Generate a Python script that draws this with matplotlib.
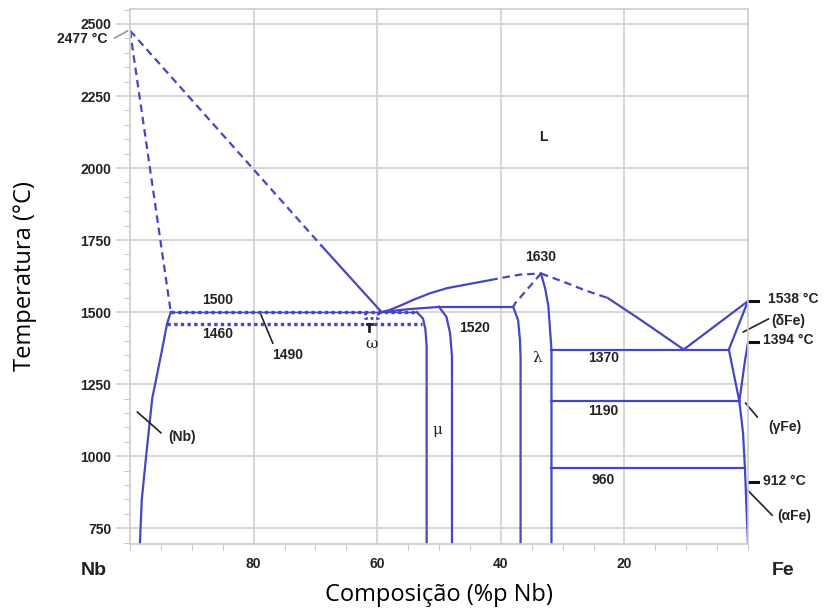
import numpy as np
import matplotlib.pyplot as plt
from matplotlib.ticker import MultipleLocator

# phase boundaries, (composition %p Nb, temperature C)
liq_nb_dash = [(100, 2477), (69, 1730)]
liq_nb_solid = [(69, 1730), (59.3, 1500)]
sol_nb = [(100, 2477), (93.4, 1500)]
solvus_nb = [(93.4, 1500), (94.0, 1460), (94.9, 1360), (95.8, 1264), (96.4, 1201),
             (97.4, 998), (98.1, 847), (98.4, 695)]
liq_mid_solid = [(59.3, 1500), (58.0, 1507), (56.3, 1522), (54.2, 1542), (51.5, 1565),
                 (48.7, 1583), (45.0, 1598), (41.7, 1611)]
liq_mid_dash = [(41.7, 1611), (40.1, 1618), (36.9, 1630), (33.5, 1634)]
liq_fe_dash = [(33.5, 1634), (29.6, 1603), (26.3, 1575), (22.7, 1549)]
liq_fe_solid = [(22.7, 1549), (17.3, 1472), (10.4, 1370)]
liq_low = [(59.3, 1500), (55.0, 1510), (50.0, 1518)]
mu_left = [(53.6, 1500), (52.6, 1478), (52.2, 1440), (52.0, 1380), (52.0, 695)]
mu_right = [(50.0, 1518), (48.8, 1484), (48.2, 1426), (47.9, 1345), (47.9, 695)]
lam_dash = [(33.5, 1634), (37.7, 1530), (38.0, 1518)]
lam_left = [(38.0, 1518), (37.2, 1472), (36.9, 1403), (36.8, 1340), (36.8, 695)]
lam_right = [(33.5, 1634), (32.8, 1580), (32.3, 1520), (32.0, 1430), (31.8, 1370), (31.8, 695)]
fe_liq = [(10.4, 1370), (0, 1538)]
fe_sol = [(0, 1538), (3.1, 1370), (1.4, 1190)]
fe_gamma = [(0, 1394), (0.5, 1330), (1.4, 1190)]
fe_alpha = [(1.4, 1190), (0.8, 1080), (0.5, 960), (0.3, 850), (0.0, 695)]
peritectic = [(50.0, 1518), (38.0, 1518)]
iso_1370 = [(31.8, 1370), (3.1, 1370)]
iso_1190 = [(31.8, 1190), (1.4, 1190)]
iso_960 = [(31.8, 960), (0.5, 960)]
dot_1500 = [(93.4, 1500), (53.6, 1500)]
dot_1460 = [(94.0, 1460), (52.8, 1460)]
omega_box = [(62.0, 1500), (62.0, 1478), (59.9, 1478), (59.9, 1500)]

# text labels (x, y, text)
labels_in = [(85.8, 1542, '1500'), (85.8, 1424, '1460'), (74.5, 1351, '1490'),
             (44.2, 1444, '1520'), (33.6, 1691, '1630'), (33.1, 2108, 'L'),
             (23.4, 1340, '1370'), (23.4, 1156, '1190'), (23.4, 917, '960'),
             (91.5, 1066, '(Nb)')]
greek = [(60.9, 1390, 'ω'), (34.1, 1340, 'λ'), (50.2, 1090, 'μ')]
labels_fe = [(-3.3, 1545, '1538 °C'), (-3.7, 1469, '(δFe)'), (-2.5, 1403, '1394 °C'),
             (-3.2, 1101, '(γFe)'), (-2.4, 913, '912 °C'), (-4.8, 792, '(αFe)')]
leaders = [((98.8, 1153), (95.0, 1081)), ((78.8, 1490), (76.9, 1392)),
           ((-3.3, 1476), (0.75, 1431)), ((0.39, 1184), (-1.5, 1136)),
           ((0.07, 882), (-3.9, 795))]
fe_ticks = [1539, 1397, 911]

blue = '#4646c4'
fig = plt.figure(figsize=(8.26, 6.14), dpi=100)
ax = fig.add_axes([130/826, 70/614, 618/826, 535/614])
ax.set_xlim(100, 0)
ax.set_ylim(695, 2552)


def line(pts, style='-', lw=1.6, color=blue, **kw):
    a = np.array(pts)
    ax.plot(a[:, 0], a[:, 1], linestyle=style, lw=lw, color=color,
            solid_joinstyle='round', **kw)


dash = (0, (3.4, 2.2))
for p in [liq_nb_solid, solvus_nb, liq_mid_solid, liq_fe_solid, liq_low, mu_left,
          mu_right, lam_left, lam_right, fe_liq, fe_sol, fe_gamma, fe_alpha,
          peritectic, iso_1370, iso_1190, iso_960]:
    line(p)
for p in [liq_nb_dash, sol_nb, liq_mid_dash, liq_fe_dash, lam_dash]:
    line(p, dash)
line(dot_1500, '-', 1.0)
line(dot_1500, (0, (1, 1)), 2.4)
line(dot_1460, (0, (1, 1)), 2.4)
line(omega_box, (0, (1, 1)), 2.0)
ax.plot([61.7, 60.9], [1458, 1458], color='#222222', lw=2)
ax.plot([61.3, 61.3], [1458, 1436], color='#222222', lw=2)

bold = dict(family='Liberation Sans', weight='bold', fontsize=10, color='#222222')
for x, y, s in labels_in:
    ax.text(x, y, s, ha='center', va='center', **bold)
for x, y, s in greek:
    ax.text(x, y, s, ha='center', va='center', family='DejaVu Serif', fontsize=11,
            color='#222222')
for x, y, s in labels_fe:
    ax.text(x, y, s, ha='left', va='center', clip_on=False, **bold)
for (x0, y0), (x1, y1) in leaders:
    ax.plot([x0, x1], [y0, y1], color='#222222', lw=1.2, clip_on=False)
for t in fe_ticks:
    ax.plot([-0.2, -1.6], [t, t], color='#111111', lw=2.2, clip_on=False)
ax.text(103.7, 2448, '2477 °C', ha='right', va='center', clip_on=False, **bold)
ax.plot([102.5, 100.4], [2451, 2476], color='#999999', lw=1.2, clip_on=False)
ax.text(105.8, 604, 'Nb', ha='center', va='center', family='Liberation Sans',
        weight='bold', fontsize=14, color='#222222')
ax.text(-5.6, 604, 'Fe', ha='center', va='center', family='Liberation Sans',
        weight='bold', fontsize=14, color='#222222')

ax.set_xticks([80, 60, 40, 20])
ax.set_yticks([750, 1000, 1250, 1500, 1750, 2000, 2250, 2500])
ax.xaxis.set_minor_locator(MultipleLocator(5))
ax.yaxis.set_minor_locator(MultipleLocator(50))
ax.grid(True, which='major', color='#cfcfcf', lw=1.2)
ax.set_axisbelow(True)
ax.tick_params(which='major', axis='y', length=10, color='#cfcfcf', width=1.2)
ax.tick_params(which='major', axis='x', length=0, pad=9)
ax.tick_params(which='minor', length=4, color='#bbbbbb')
for lab in ax.get_xticklabels() + ax.get_yticklabels():
    lab.set_fontfamily('Liberation Sans')
    lab.set_fontweight('bold')
    lab.set_fontsize(10)
    lab.set_color('#222222')
for sp in ax.spines.values():
    sp.set_color('#cccccc')
    sp.set_linewidth(1.2)

ax.set_xlabel('Composição (%p Nb)', family='Open Sans', fontsize=17, labelpad=9)
ax.set_ylabel('Temperatura (°C)', family='Open Sans', fontsize=17, labelpad=31)

fig.savefig('out.png', dpi=100)
